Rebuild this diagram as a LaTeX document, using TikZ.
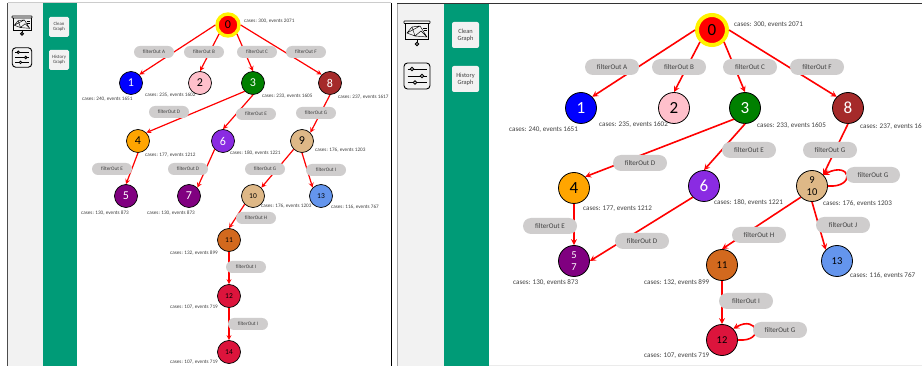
\documentclass[tikz,border=0pt]{standalone}
\usepackage{fontspec}
\setmainfont{Carlito}
\usetikzlibrary{shapes.misc}
\definecolor{panelgreen}{HTML}{009B77}
\definecolor{panelgray}{HTML}{F2F2F2}
\definecolor{pillgray}{HTML}{CFCDCD}
\definecolor{inktext}{HTML}{404040}
\definecolor{burly}{HTML}{DEB887}
\definecolor{violetn}{HTML}{8A2BE2}
\definecolor{choco}{HTML}{D2691E}
\definecolor{cornflower}{HTML}{6495ED}
\definecolor{crimsonn}{HTML}{DC143C}
\definecolor{brownn}{HTML}{A52A2A}
\definecolor{pinkn}{HTML}{FFC0CB}
\definecolor{orangen}{HTML}{FFA500}
\definecolor{greenn}{HTML}{008000}
\definecolor{purplen}{HTML}{800080}
\tikzset{
  smallnode/.style = {circle, draw = black, line width = 0.7pt, minimum size = 23pt, inner sep = 0pt, fill = #1, font = \fontsize{12}{12}\selectfont},
  bignode/.style = {circle, draw = black, line width = 0.8pt, minimum size = 31pt, inner sep = 0pt, fill = #1, font = \fontsize{17}{17}\selectfont},
  smallroot/.style = {circle, draw = yellow, line width = 3.4pt, fill = red, minimum size = 22pt, inner sep = 0pt, font = \fontsize{12}{12}\selectfont},
  bigroot/.style = {circle, draw = yellow, line width = 4pt, fill = red, minimum size = 30pt, inner sep = 0pt, font = \fontsize{17}{17}\selectfont},
  smalledge/.style = {draw = red, line width = 1.2pt, -stealth},
  bigedge/.style = {draw = red, line width = 1.6pt, -stealth},
  smallpill/.style = {rounded rectangle, fill = pillgray, minimum width = 40pt, minimum height = 12pt, inner sep = 0pt, text = inktext, font = \fontsize{5.2}{5.5}\selectfont},
  bigpill/.style = {rounded rectangle, fill = pillgray, minimum width = 54pt, minimum height = 16pt, inner sep = 0pt, text = inktext, font = \fontsize{7.1}{7.5}\selectfont},
  smalltag/.style = {anchor = west, inner sep = 0pt, text = inktext, font = \fontsize{5.2}{5.5}\selectfont},
  bigtag/.style = {anchor = west, inner sep = 0pt, text = inktext, font = \fontsize{7.1}{7.5}\selectfont},
  smallbutton/.style = {fill = panelgray, rounded corners = 1.5pt, minimum width = 20pt, minimum height = 20pt, inner sep = 0pt, align = center, text = inktext, font = \fontsize{4.8}{5.2}\selectfont},
  bigbutton/.style = {fill = panelgray, rounded corners = 2pt, minimum width = 27pt, minimum height = 26pt, inner sep = 0pt, align = center, text = inktext, font = \fontsize{6.4}{6.8}\selectfont},
  boardicon/.pic = {
    \draw [line width = 0.6pt, rounded corners = 0.5pt] (-13, -11) rectangle (13, -8.5);
    \draw [line width = 0.6pt] (-11.5, -8.5) -- (-11.5, 7) -- (11.5, 7) -- (11.5, -8.5);
    \draw [line width = 0.45pt] (-10, 1) -- (-5, -5) -- (3, -6) -- (10, 5) -- (-2, 4) -- (-10, 1) -- (3, -6) (-5, -5) -- (-2, 4) -- (4, -1) -- (10, 5);
    \draw [line width = 0.45pt] (6, -4) -- (10, -4) (7, -2) -- (10, -2);
    \draw [line width = 0.6pt] (0, 7) -- (0, 10);
    \draw [line width = 0.8pt, fill = gray] (0, 12) circle (1.9);
  },
  slidericon/.pic = {
    \draw [line width = 0.9pt, rounded corners = 3.5pt] (-13, -13) rectangle (13, 13);
    \draw [line width = 0.8pt] (-9.5, -7) -- (9.5, -7) (-9.5, 0) -- (9.5, 0) (-9.5, 6.5) -- (9.5, 6.5);
    \draw [line width = 0.8pt, fill = panelgray] (-5, -7) circle (1.7) (5, 0) circle (1.7) (-2, 6.5) circle (1.7);
  }
}

\begin{document}
\begin{tikzpicture}[x = 1pt, y = -1pt]
\useasboundingbox (0, 0) rectangle (922, 366);
% left window
\fill [white] (0, 0) rectangle (922, 366);
\fill [panelgray] (8, 3) rectangle (43, 366);
\fill [panelgreen] (43, 3) rectangle (77, 366);
\draw [line width = 0.7pt, color = black!70] (7.5, 3) -- (7.5, 366);
\draw [line width = 0.7pt, color = black!20] (8, 2.5) -- (391, 2.5);
\draw [line width = 1.2pt] (391.5, 3) -- (391.5, 366);
\pic at (22, 24.5) [scale = 0.77] {boardicon};
\pic at (22, 57.5) [scale = 0.75] {slidericon};
\node (cleanA) at (59, 27) [smallbutton] {Clean\\Graph};
\node (historyA) at (59, 60) [smallbutton] {History\\Graph};

% left graph
\node (a0) at (228, 25) [smallroot] {0};
\node (a1) at (131, 83) [smallnode = blue, text = white] {1};
\node (a2) at (200, 83) [smallnode = pinkn] {2};
\node (a3) at (253, 83) [smallnode = greenn, text = white] {3};
\node (a8) at (330, 83) [smallnode = brownn, text = white] {8};
\node (a4) at (138, 141) [smallnode = orangen] {4};
\node (a6) at (223, 141) [smallnode = violetn, text = white] {6};
\node (a9) at (302, 141) [smallnode = burly] {9};
\node (a5) at (126, 196) [smallnode = purplen, text = white] {5};
\node (a7) at (189, 196) [smallnode = purplen, text = white] {7};
\node (a10) at (253, 196) [smallnode = burly, font = \fontsize{7.5}{8}\selectfont] {10};
\node (a13) at (321, 196) [smallnode = cornflower, font = \fontsize{7.5}{8}\selectfont] {13};
\node (a11) at (229, 240) [smallnode = choco, font = \fontsize{7.5}{8}\selectfont] {11};
\node (a12) at (229, 296) [smallnode = crimsonn, font = \fontsize{7.5}{8}\selectfont] {12};
\node (a14) at (229, 352) [smallnode = crimsonn, font = \fontsize{7.5}{8}\selectfont] {14};
\draw [smalledge] (a0.west) -- (a1.45);
\draw [smalledge] (a0.225) -- (a2.north);
\draw [smalledge] (a0.-45) -- (a3.north);
\draw [smalledge] (a0.east) -- (a8.135);
\draw [smalledge] (a3.225) -- (a4.45);
\draw [smalledge] (a3.south) -- (a6.north);
\draw [smalledge] (a8.south) -- (a9.45);
\draw [smalledge] (a4.south) -- (a5.north);
\draw [smalledge] (a6.225) -- (a7.45);
\draw [smalledge] (a9.225) -- (a10.45);
\draw [smalledge] (a9.south) -- (a13.135);
\draw [smalledge] (a10.225) -- (a11.north);
\draw [smalledge] (a11.south) -- (a12.north);
\draw [smalledge] (a12.south) -- (a14.north);
\node (pa1) at (154, 52) [smallpill] {filterOut A};
\node (pa2) at (204, 52) [smallpill] {filterOut B};
\node (pa3) at (257, 52) [smallpill] {filterOut C};
\node (pa4) at (306, 52) [smallpill] {filterOut F};
\node (pa5) at (169, 112) [smallpill] {filterOut D};
\node (pa6) at (256, 114) [smallpill] {filterOut E};
\node (pa7) at (316, 113) [smallpill] {filterOut G};
\node (pa8) at (112, 169) [smallpill] {filterOut E};
\node (pa9) at (188, 169) [smallpill] {filterOut D};
\node (pa10) at (265, 169) [smallpill] {filterOut G};
\node (pa11) at (326, 170) [smallpill] {filterOut I};
\node (pa12) at (256, 218) [smallpill] {filterOut H};
\node (pa13) at (246, 267) [smallpill] {filterOut I};
\node (pa14) at (248, 324) [smallpill] {filterOut I};
\node (ta0) at (244, 21) [smalltag] {cases: 300, events 2071};
\node (ta1) at (82, 99) [smalltag] {cases: 240, events 1651};
\node (ta2) at (145, 95) [smalltag] {cases: 235, events 1602};
\node (ta3) at (262, 96) [smalltag] {cases: 233, events 1605};
\node (ta8) at (338, 97) [smalltag] {cases: 237, events 1617};
\node (ta4) at (145, 155) [smalltag] {cases: 177, events 1212};
\node (ta6) at (230, 153) [smalltag] {cases: 180, events 1221};
\node (ta9) at (315, 150) [smalltag] {cases: 176, events 1203};
\node (ta5) at (81, 213) [smalltag] {cases: 130, events 873};
\node (ta7) at (147, 213) [smalltag] {cases: 130, events 873};
\node (ta10) at (261, 206) [smalltag] {cases: 176, events 1203};
\node (ta13) at (331, 207) [smalltag] {cases: 116, events 767};
\node (ta11) at (170, 253) [smalltag] {cases: 132, events 899};
\node (ta12) at (170, 307) [smalltag] {cases: 107, events 719};
\node (ta14) at (170, 362) [smalltag] {cases: 107, events 719};

% right window
\fill [panelgray] (397, 3) rectangle (444, 366);
\fill [panelgreen] (444, 3) rectangle (489, 366);
\draw [line width = 0.7pt, color = black!35] (397, 3) -- (397, 366);
\draw [line width = 0.8pt, color = black!80] (397, 3) -- (922, 3);
\draw [line width = 0.5pt, color = black!8] (489, 365.5) -- (922, 365.5);
\pic at (417, 32) {boardicon};
\pic at (417, 76) {slidericon};
\node (cleanB) at (465.5, 35) [bigbutton] {Clean\\Graph};
\node (historyB) at (465.5, 79) [bigbutton] {History\\Graph};

% right graph
\node (b0) at (712, 30) [bigroot] {0};
\node (b1) at (581, 108) [bignode = blue, text = white] {1};
\node (b2) at (674, 108) [bignode = pinkn] {2};
\node (b3) at (745, 108) [bignode = greenn, text = white] {3};
\node (b8) at (848, 108) [bignode = brownn, text = white] {8};
\node (b4) at (574, 188) [bignode = orangen] {4};
\node (b6) at (704, 186) [bignode = violetn, text = white] {6};
\node (b9) at (812, 186) [bignode = burly, align = center, font = \fontsize{10.5}{11.5}\selectfont] {9\\10};
\node (b5) at (574, 261) [bignode = purplen, text = white, align = center, font = \fontsize{10.5}{12.7}\selectfont] {5\\7};
\node (b11) at (722, 265) [bignode = choco, font = \fontsize{10.5}{11}\selectfont] {11};
\node (b13) at (837, 261) [bignode = cornflower, font = \fontsize{10.5}{11}\selectfont] {13};
\node (b12) at (722, 340) [bignode = crimsonn, font = \fontsize{10.5}{11}\selectfont] {12};
\draw [bigedge] (b0.west) -- (b1.45);
\draw [bigedge] (b0.225) -- (b2.north);
\draw [bigedge] (b0.-45) -- (b3.north);
\draw [bigedge] (b0.east) -- (b8.135);
\draw [bigedge] (b3.225) -- (b4.45);
\draw [bigedge] (b3.south) -- (b6.north);
\draw [bigedge] (b8.south) -- (b9.45);
\draw [bigedge] (b4.south) -- (b5.north);
\draw [bigedge] (b6.225) -- (b5.east);
\draw [bigedge] (b9.225) -- (b11.north);
\draw [bigedge] (b9.south) -- (b13.135);
\draw [bigedge] (b11.south) -- (b12.north);
\draw [bigedge] (b9.east) .. controls +(28, 2) and +(28, -14) .. (b9.45);
\draw [bigedge] (b12.east) .. controls +(28, 2) and +(24, -14) .. (b12.45);
\node (pb1) at (612, 67) [bigpill] {filterOut A};
\node (pb2) at (679, 67) [bigpill] {filterOut B};
\node (pb3) at (750, 67) [bigpill] {filterOut C};
\node (pb4) at (817, 67) [bigpill] {filterOut F};
\node (pb5) at (640, 163) [bigpill] {filterOut D};
\node (pb6) at (749, 150) [bigpill] {filterOut E};
\node (pb7) at (830, 150) [bigpill] {filterOut G};
\node (pb8) at (873, 175) [bigpill] {filterOut G};
\node (pb9) at (550, 226) [bigpill] {filterOut E};
\node (pb10) at (642, 241) [bigpill] {filterOut D};
\node (pb11) at (759, 235) [bigpill] {filterOut H};
\node (pb12) at (843, 225) [bigpill] {filterOut J};
\node (pb13) at (746, 301) [bigpill] {filterOut I};
\node (pb14) at (780, 330) [bigpill] {filterOut G};
\node (tb0) at (734, 25) [bigtag] {cases: 300, events 2071};
\node (tb1) at (509, 130) [bigtag] {cases: 240, events 1651};
\node (tb2) at (599, 125) [bigtag] {cases: 235, events 1602};
\node (tb3) at (757, 126) [bigtag] {cases: 233, events 1605};
\node (tb8) at (860, 127) [bigtag] {cases: 237, events 1617};
\node (tb4) at (583, 209) [bigtag] {cases: 177, events 1212};
\node (tb6) at (714, 203) [bigtag] {cases: 180, events 1221};
\node (tb9) at (823, 204) [bigtag] {cases: 176, events 1203};
\node (tb5) at (513, 283) [bigtag] {cases: 130, events 873};
\node (tb11) at (644, 283) [bigtag] {cases: 132, events 899};
\node (tb13) at (850, 276) [bigtag] {cases: 116, events 767};
\node (tb12) at (644, 356) [bigtag] {cases: 107, events 719};
\end{tikzpicture}
\end{document}
